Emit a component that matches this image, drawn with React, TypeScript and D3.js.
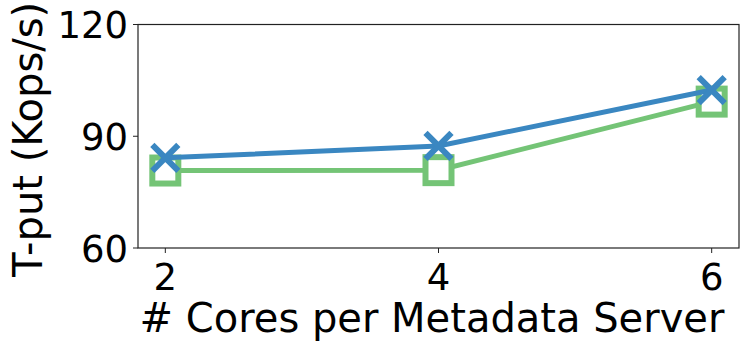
import * as d3 from "d3";

const cores = [2, 4, 6];
const seriesA = [84.2, 87.4, 102.4]; // blue, x markers
const seriesB = [80.8, 80.9, 99.3]; // green, square markers
const yTicks = [60, 90, 120];

const W = 748;
const H = 349;
const m = { left: 138, right: 9, top: 24.5, bottom: 101 };
const FONT = "'DejaVu Sans', sans-serif";

export default function App() {
  const x = d3.scaleLinear().domain([1.8, 6.2]).range([m.left, W - m.right]);
  const y = d3.scaleLinear().domain([60, 120]).range([H - m.bottom, m.top]);
  const line = d3
    .line<number>()
    .x((_, i) => x(cores[i]))
    .y((d) => y(d));

  const blue = "#3a87c1";
  const green = "#74c476";
  const xs = 13;
  const sq = 13;

  return (
    <svg
      width={W}
      height={H}
      style={{ position: "absolute", left: 0, top: 0, background: "#fff" }}
      fontFamily={FONT}
    >
      <rect
        x={m.left}
        y={m.top}
        width={W - m.left - m.right}
        height={H - m.top - m.bottom}
        fill="none"
        stroke="#222"
        strokeWidth={1.2}
      />
      {yTicks.map((t) => (
        <g key={t}>
          <line x1={m.left - 5} x2={m.left} y1={y(t)} y2={y(t)} stroke="#222" />
          <text
            x={m.left - 10}
            y={y(t) + 13.5}
            textAnchor="end"
            fontSize={37}
            fill="#000"
          >
            {t}
          </text>
        </g>
      ))}
      {cores.map((c) => (
        <g key={c}>
          <line
            x1={x(c)}
            x2={x(c)}
            y1={H - m.bottom}
            y2={H - m.bottom + 5}
            stroke="#222"
          />
          <text
            x={x(c)}
            y={H - m.bottom + 42}
            textAnchor="middle"
            fontSize={37}
            fill="#000"
          >
            {c}
          </text>
        </g>
      ))}
      <path d={line(seriesB) ?? ""} fill="none" stroke={green} strokeWidth={5} />
      {seriesB.map((v, i) => (
        <rect
          key={i}
          x={x(cores[i]) - sq}
          y={y(v) - sq}
          width={sq * 2}
          height={sq * 2}
          fill="#fff"
          stroke={green}
          strokeWidth={6}
        />
      ))}
      <path d={line(seriesA) ?? ""} fill="none" stroke={blue} strokeWidth={5} />
      {seriesA.map((v, i) => {
        const cx = x(cores[i]);
        const cy = y(v);
        return (
          <path
            key={i}
            d={`M${cx - xs},${cy - xs}L${cx + xs},${cy + xs}M${cx - xs},${cy + xs}L${cx + xs},${cy - xs}`}
            stroke={blue}
            strokeWidth={6}
            fill="none"
          />
        );
      })}
      <text
        x={432}
        y={332}
        textAnchor="middle"
        fontSize={40}
        fill="#000"
      >
        # Cores per Metadata Server
      </text>
      <text
        transform={`translate(42,${(m.top + H - m.bottom) / 2 + 3}) rotate(-90)`}
        textAnchor="middle"
        fontSize={40}
        fill="#000"
      >
        T-put (Kops/s)
      </text>
    </svg>
  );
}
